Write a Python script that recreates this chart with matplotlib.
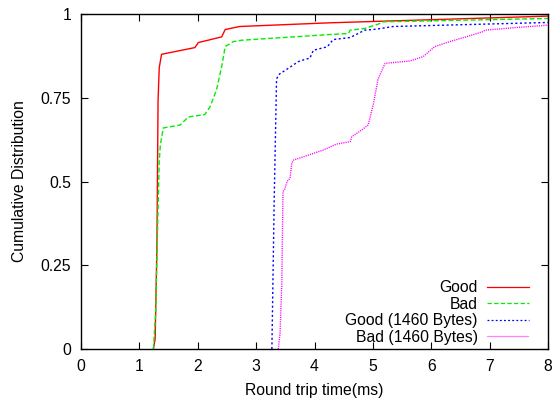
import matplotlib
matplotlib.use("Agg")
import matplotlib.pyplot as plt

# CDF curves of round trip time (ms)
good_x = [1.24, 1.27, 1.30, 1.32, 1.34, 1.38, 1.95, 2.01, 2.41, 2.47, 2.72, 4.26, 8.0]
good_y = [0.0, 0.03, 0.30, 0.74, 0.84, 0.88, 0.90, 0.915, 0.932, 0.954, 0.963, 0.974, 0.994]

bad_x = [1.24, 1.28, 1.31, 1.34, 1.36, 1.41, 1.70, 1.84, 2.12, 2.21, 2.32, 2.41, 2.47,
         2.61, 2.75, 4.26, 4.58, 4.61, 4.86, 5.09, 5.18, 8.0]
bad_y = [0.0, 0.11, 0.35, 0.56, 0.61, 0.66, 0.669, 0.693, 0.70, 0.723, 0.773, 0.843, 0.903,
         0.918, 0.922, 0.939, 0.942, 0.952, 0.957, 0.970, 0.977, 0.987]

good1460_x = [3.27, 3.31, 3.35, 3.40, 3.55, 3.72, 3.86, 3.92, 3.98, 4.21, 4.24, 4.32,
              4.61, 4.86, 5.06, 5.35, 8.0]
good1460_y = [0.0, 0.45, 0.807, 0.821, 0.838, 0.858, 0.866, 0.868, 0.892, 0.902, 0.907,
              0.924, 0.930, 0.952, 0.955, 0.963, 0.975]

bad1460_x = [3.38, 3.41, 3.44, 3.46, 3.49, 3.53, 3.58, 3.61, 3.64, 3.98, 4.15, 4.38, 4.61,
             4.64, 4.81, 4.92, 5.01, 5.09, 5.21, 5.63, 5.86, 6.06, 6.32, 6.69, 6.89, 6.92,
             7.46, 8.0]
bad1460_y = [0.0, 0.048, 0.197, 0.47, 0.477, 0.50, 0.51, 0.554, 0.564, 0.584, 0.594, 0.612,
             0.619, 0.634, 0.654, 0.669, 0.733, 0.807, 0.853, 0.860, 0.873, 0.903, 0.918,
             0.937, 0.948, 0.952, 0.960, 0.967]

x_ticks = [0, 1, 2, 3, 4, 5, 6, 7, 8]
y_ticks = [0, 0.25, 0.5, 0.75, 1]
y_labels = ["0", "0.25", "0.5", "0.75", "1"]

plt.rcParams["font.family"] = ["Liberation Sans", "DejaVu Sans"]
plt.rcParams["font.size"] = 11.3

fig = plt.figure(figsize=(5.54, 4.03), dpi=100)
ax = fig.add_axes([0.1462, 0.134, 0.843, 0.831])

ax.plot(good_x, good_y, color="#ff0000", linewidth=1.0, label="Good")
ax.plot(bad_x, bad_y, color="#00ee00", linewidth=1.0, dashes=(3.5, 1.8), label="Bad")
ax.plot(good1460_x, good1460_y, color="#0000ff", linewidth=1.0, dashes=(1.5, 1.8),
        label="Good (1460 Bytes)")
ax.plot(bad1460_x, bad1460_y, color="#ff00ff", linewidth=1.0, dashes=(0.8, 0.8),
        label="Bad (1460 Bytes)")

ax.set_xlim(0, 8)
ax.set_ylim(0, 1)
ax.set_xticks(x_ticks)
ax.set_yticks(y_ticks)
ax.set_yticklabels(y_labels)
ax.tick_params(direction="in", length=5, width=0.8, top=True, right=True, pad=7)
for s in ax.spines.values():
    s.set_linewidth(1.0)

ax.set_xlabel("Round trip time(ms)", labelpad=7)
ax.set_ylabel("Cumulative Distribution", labelpad=10)

leg = ax.legend(loc="lower right", bbox_to_anchor=(0.96, 0.012), frameon=False,
                markerfirst=False, handlelength=2.7, handletextpad=0.6,
                labelspacing=0.1, borderaxespad=0.0, borderpad=0.0)
for t in leg.get_texts():
    t.set_ha("right")
for ln in leg.get_lines():
    ln.set_linewidth(0.9)

fig.savefig("out.png", dpi=100)
